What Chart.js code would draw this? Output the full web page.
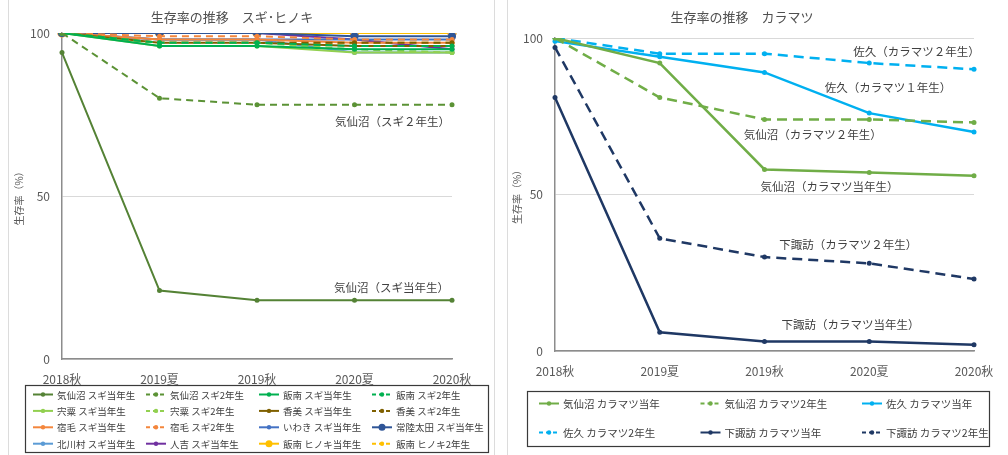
<!DOCTYPE html>
<html>
<head>
<meta charset="utf-8">
<script src="https://cdn.jsdelivr.net/npm/chart.js@4.4.1/dist/chart.umd.min.js"></script>
<style>
  body { margin: 0; background: #fff; width: 1008px; height: 455px; overflow: hidden; position: relative; }
  .panel { position: absolute; top: -2px; height: 457px; border: 1px solid #dcdcdc; }
  #leftPanel { left: 8px; width: 485px; }
  #rightPanel { left: 507px; width: 530px; }
  canvas { position: absolute; top: 0; }
  #sugiChart { left: 0; }
  #karamatsuChart { left: 508px; }
</style>
</head>
<body>
<div class="panel" id="leftPanel"></div>
<div class="panel" id="rightPanel"></div>
<canvas id="sugiChart" width="500" height="455"></canvas>
<canvas id="karamatsuChart" width="500" height="455"></canvas>
<script>
// 調査時期
const periods = ['2018秋', '2019夏', '2019秋', '2020夏', '2020秋'];
const yTicks = [0, 50, 100];

// スギ・ヒノキ 生存率 (%)
const kesennumaSugi0 = [94, 21, 18, 18, 18];
const kesennumaSugi2 = [100, 80, 78, 78, 78];
const iinanSugi0 = [100, 96, 96, 95, 95];
const iinanSugi2 = [100, 97, 97, 96, 96];
const shisoSugi0 = [100, 96, 96, 94, 94];
const shisoSugi2 = [100, 97, 97, 95, 94];
const kamiSugi0 = [100, 97, 97, 96, 96];
const kamiSugi2 = [100, 97, 97, 97, 97];
const sukumoSugi0 = [100, 98, 98, 97, 97];
const sukumoSugi2 = [100, 99, 99, 98, 98];
const iwakiSugi0 = [100, 98, 98, 98, 98];
const hitachiotaSugi0 = [100, 100, 100, 99, 99];
const kitagawaSugi0 = [100, 98, 98, 94, 94];
const hitoyoshiSugi0 = [100, 100, 100, 98, 95];
const iinanHinoki0 = [100, 100, 100, 100, 100];
const iinanHinoki2 = [100, 97, 97, 97, 97];

// カラマツ 生存率 (%)
const kesennumaKara0 = [100, 92, 58, 57, 56];
const kesennumaKara2 = [100, 81, 74, 74, 73];
const sakuKara0 = [99, 94, 89, 76, 70];
const sakuKara2 = [100, 95, 95, 92, 90];
const shimosuwaKara0 = [81, 6, 3, 3, 2];
const shimosuwaKara2 = [97, 36, 30, 28, 23];

// 系列名
const sugiNames = [
  '気仙沼 スギ当年生', '気仙沼 スギ2年生', '飯南 スギ当年生', '飯南 スギ2年生',
  '宍粟 スギ当年生', '宍粟 スギ2年生', '香美 スギ当年生', '香美 スギ2年生',
  '宿毛 スギ当年生', '宿毛 スギ2年生', 'いわき スギ当年生', '常陸太田 スギ当年生',
  '北川村 スギ当年生', '人吉 スギ当年生', '飯南 ヒノキ当年生', '飯南 ヒノキ2年生'
];
const karaNames = [
  '気仙沼 カラマツ当年', '気仙沼 カラマツ2年生', '佐久 カラマツ当年',
  '佐久 カラマツ2年生', '下諏訪 カラマツ当年', '下諏訪 カラマツ2年生'
];

// 図中の注記 [文字, 横位置(系列番号), 縦位置(%)]
const sugiNotes = [
  ['気仙沼（スギ２年生）', 3.39, 72.8],
  ['気仙沼（スギ当年生）', 3.38, 21.8]
];
const karaNotes = [
  ['佐久（カラマツ２年生）', 3.45, 95.6],
  ['佐久（カラマツ１年生）', 3.18, 84.0],
  ['気仙沼（カラマツ２年生）', 2.46, 69.0],
  ['気仙沼（カラマツ当年生）', 2.62, 52.5],
  ['下諏訪（カラマツ２年生）', 2.80, 33.9],
  ['下諏訪（カラマツ当年生）', 2.82, 8.3]
];

const FONT = '"Noto Sans CJK JP", "Noto Sans", sans-serif';
const TEXT = '#595959';

// 凡例を枠付きの格子状に描く
const boxLegend = {
  id: 'boxLegend',
  afterDraw(chart, args, o) {
    const ctx = chart.ctx;
    ctx.save();
    ctx.strokeStyle = '#3a3a3a';
    ctx.lineWidth = 1.2;
    ctx.strokeRect(o.x + 0.5, o.y + 0.5, o.w, o.h);
    ctx.font = o.fontSize + 'px ' + FONT;
    ctx.textBaseline = 'middle';
    chart.data.datasets.forEach((ds, i) => {
      const x = o.sx + (i % o.cols) * o.colW;
      const y = o.sy + Math.floor(i / o.cols) * o.rowH;
      ctx.strokeStyle = ds.borderColor;
      ctx.lineWidth = 2;
      ctx.setLineDash(ds.borderDash ? [4, 3] : []);
      ctx.beginPath();
      ctx.moveTo(x, y);
      ctx.lineTo(x + 20, y);
      ctx.stroke();
      ctx.setLineDash([]);
      ctx.fillStyle = ds.borderColor;
      ctx.beginPath();
      ctx.arc(x + 10, y, ds.pointRadius > 3 ? 3.5 : 2.2, 0, Math.PI * 2);
      ctx.fill();
      ctx.fillStyle = '#404040';
      ctx.fillText(ds.label, x + 24, y + 0.5);
    });
    ctx.restore();
  }
};

// 系列の注記
const noteLabels = {
  id: 'noteLabels',
  afterDatasetsDraw(chart, args, o) {
    const { ctx, scales } = chart;
    ctx.save();
    ctx.font = '11.5px ' + FONT;
    ctx.fillStyle = '#404040';
    ctx.textAlign = 'center';
    ctx.textBaseline = 'middle';
    o.items.forEach(([text, at, value]) => {
      ctx.fillText(text, scales.x.getPixelForValue(at), scales.y.getPixelForValue(value));
    });
    ctx.restore();
  }
};

function series(label, data, color, dashed, dash, width, extra) {
  return Object.assign({
    label: label,
    data: data,
    borderColor: color,
    backgroundColor: color,
    borderWidth: width,
    borderDash: dashed ? dash : undefined,
    pointRadius: 2.5,
    pointBorderWidth: 0,
    pointBackgroundColor: color,
    tension: 0
  }, extra || {});
}

function baseOptions(title, yWidth, xHeight, pad, titlePad, legend, notes) {
  return {
    responsive: false,
    animation: false,
    layout: { padding: pad },
    plugins: {
      legend: { display: false },
      tooltip: { enabled: false },
      title: {
        display: true, text: title, color: '#505050',
        font: { family: FONT, size: 13, weight: 'normal' }, padding: titlePad
      },
      boxLegend: legend,
      noteLabels: { items: notes }
    },
    scales: {
      x: {
        grid: { display: false, drawTicks: false },
        border: { display: true, color: '#8c8c8c', width: 1.5 },
        ticks: { color: TEXT, font: { family: FONT, size: 12 }, padding: 13, maxRotation: 0, autoSkip: false },
        afterFit(s) { s.height = xHeight; }
      },
      y: {
        min: 0, max: 100,
        afterBuildTicks(s) { s.ticks = yTicks.map(v => ({ value: v })); },
        grid: { color: '#d9d9d9', drawTicks: false },
        border: { display: true, color: '#8c8c8c', width: 1.5 },
        ticks: { color: TEXT, font: { family: FONT, size: 12 }, padding: 12 },
        title: { display: true, text: '生存率（%）', color: TEXT, font: { family: FONT, size: 10 }, padding: { top: 1, bottom: 0 } },
        afterFit(s) { s.width = yWidth; }
      }
    }
  };
}

const sugiData = [kesennumaSugi0, kesennumaSugi2, iinanSugi0, iinanSugi2, shisoSugi0, shisoSugi2,
  kamiSugi0, kamiSugi2, sukumoSugi0, sukumoSugi2, iwakiSugi0, hitachiotaSugi0,
  kitagawaSugi0, hitoyoshiSugi0, iinanHinoki0, iinanHinoki2];
const sugiColors = ['#548235', '#5b9235', '#00b050', '#00b050', '#92d050', '#92d050', '#7f6000', '#7f6000',
  '#f4863c', '#f4863c', '#4472c4', '#2f5597', '#5b9bd5', '#7030a0', '#ffc000', '#ffc000'];
const sugiDashed = [false, true, false, true, false, true, false, true, false, true, false, false, false, false, false, true];

const sugiSets = sugiData.map((d, i) => {
  let extra = {};
  if (i === 11) extra = { pointRadius: 4 };
  if (i === 14) extra = { pointRadius: 4, pointBorderWidth: 1.5, pointBorderColor: '#e8a43a', pointBackgroundColor: '#fde8b0' };
  return series(sugiNames[i], d, sugiColors[i], sugiDashed[i], [7, 5], 2, extra);
});

new Chart(document.getElementById('sugiChart'), {
  type: 'line',
  data: { labels: periods, datasets: sugiSets },
  options: baseOptions('生存率の推移　スギ･ヒノキ', 50, 96,
    { left: 12, right: 48, top: 0, bottom: 0 },
    { top: 9, bottom: 8.4 },
    { x: 25, y: 385, w: 463, h: 67, cols: 4, colW: 113, rowH: 16.4, sx: 33, sy: 394.5, fontSize: 9.5 },
    sugiNotes),
  plugins: [boxLegend, noteLabels]
});

const karaData = [kesennumaKara0, kesennumaKara2, sakuKara0, sakuKara2, shimosuwaKara0, shimosuwaKara2];
const karaColors = ['#70ad47', '#70ad47', '#00b0f0', '#00b0f0', '#1f3864', '#1f3864'];
const karaDashed = [false, true, false, true, false, true];

const karaSets = karaData.map((d, i) =>
  series(karaNames[i], d, karaColors[i], karaDashed[i], [10, 6], 2.5));

new Chart(document.getElementById('karamatsuChart'), {
  type: 'line',
  data: { labels: periods, datasets: karaSets },
  options: baseOptions('生存率の推移　カラマツ', 45, 104,
    { left: 2, right: 34, top: 0, bottom: 0 },
    { top: 9, bottom: 13.4 },
    { x: 19, y: 391, w: 462, h: 55, cols: 3, colW: 161.5, rowH: 29, sx: 31, sy: 403.5, fontSize: 10.5 },
    karaNotes),
  plugins: [boxLegend, noteLabels]
});
</script>
</body>
</html>
